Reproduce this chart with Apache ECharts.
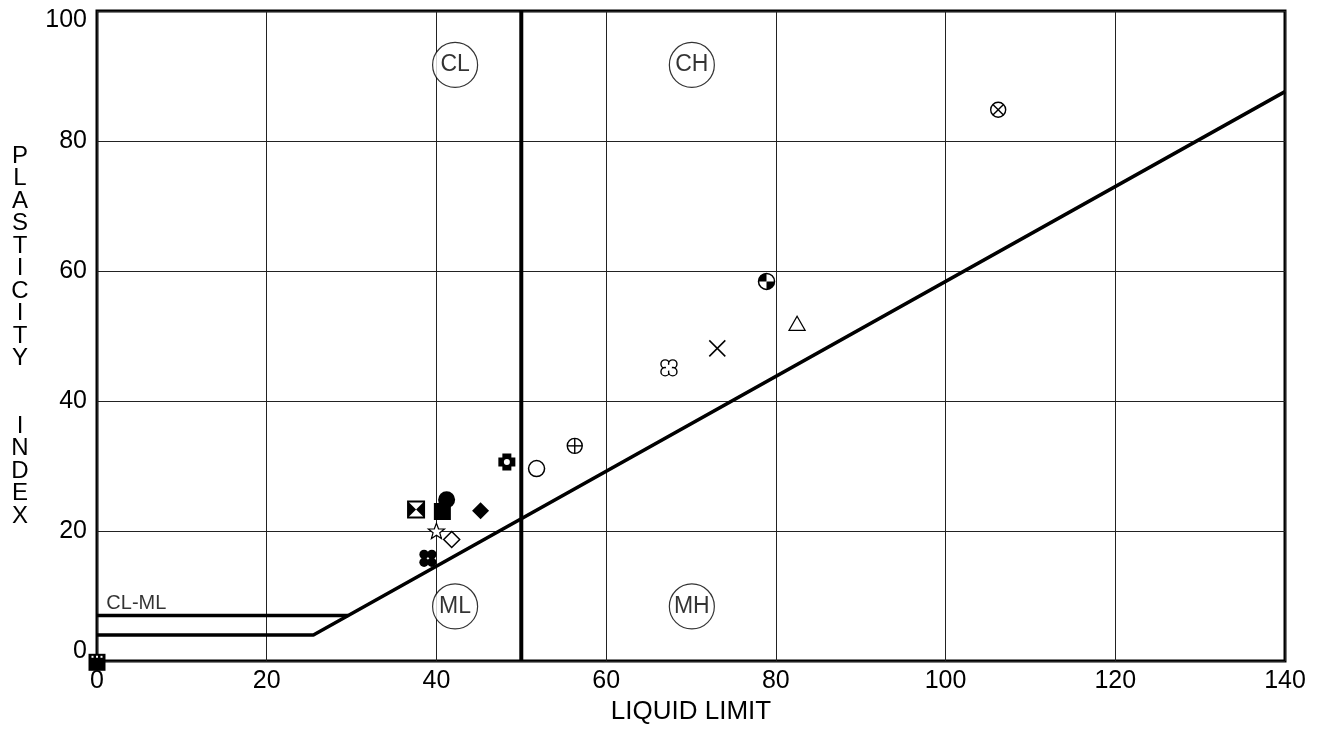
<!DOCTYPE html>
<html>
<head>
<meta charset="utf-8">
<script src="https://cdn.jsdelivr.net/npm/echarts@6/dist/echarts.min.js"></script>
<style>
  html, body { margin: 0; padding: 0; background: #fff; }
  #chart { width: 1325px; height: 730px; }
</style>
</head>
<body>
<div id="chart"></div>
<script>
// sample points: liquid limit, plasticity index, marker type
var sampleLL = [37.6, 40.7, 41.2, 45.2, 40.0, 41.8, 39.0, 48.3, 51.8, 56.3, 78.9, 82.5, 73.1, 67.4, 106.2, 0];
var samplePI = [23.3, 23.0, 24.8, 23.1, 19.9, 18.7, 15.8, 30.6, 29.6, 33.1, 58.4, 51.8, 48.1, 45.1, 84.8, -0.2];
var sampleMark = ['bowtie', 'square', 'circle', 'diamond', 'star', 'odiamond', 'clover', 'cross', 'ocircle',
  'cplus', 'checker', 'triangle', 'x', 'oclover', 'cx', 'osq'];

// A-line with the CL-ML band
var aLineLL = [0, 25.5, 140];
var aLinePI = [4, 4, 87.6];
var bandLL = [0, 29.6];
var bandPI = [7, 7];
var divideLL = [50, 50];
var dividePI = [0, 100];

// zone names
var zoneNames = ['CL', 'CH', 'ML', 'MH'];
var zoneLL = [42.2, 70.1, 42.2, 70.1];
var zonePI = [91.7, 91.7, 8.4, 8.4];

var FONT = '"Liberation Sans", Arial, Helvetica, sans-serif';
var K = '#000', W = '#fff';

function shapeOf(t, x, y) {
  switch (t) {
    case 'bowtie':
      return [
        {type: 'rect', shape: {x: x - 8, y: y - 8, width: 16, height: 16}, style: {fill: W, stroke: K, lineWidth: 2}},
        {type: 'polygon', shape: {points: [[x - 8, y - 8], [x, y], [x - 8, y + 8]]}, style: {fill: K}},
        {type: 'polygon', shape: {points: [[x + 8, y - 8], [x, y], [x + 8, y + 8]]}, style: {fill: K}}
      ];
    case 'square':
      return [{type: 'rect', shape: {x: x - 8.5, y: y - 8.5, width: 17, height: 17}, style: {fill: K}}];
    case 'circle':
      return [{type: 'circle', shape: {cx: x, cy: y, r: 8.5}, style: {fill: K}}];
    case 'diamond':
      return [{type: 'polygon', shape: {points: [[x, y - 8.5], [x + 8.5, y], [x, y + 8.5], [x - 8.5, y]]}, style: {fill: K}}];
    case 'odiamond':
      return [{type: 'polygon', shape: {points: [[x, y - 8], [x + 8, y], [x, y + 8], [x - 8, y]]}, style: {fill: W, stroke: K, lineWidth: 1.5}}];
    case 'star':
      var pts = [];
      for (var i = 0; i < 10; i++) {
        var r = i % 2 ? 3.5 : 8.5;
        var a = -Math.PI / 2 + i * Math.PI / 5;
        pts.push([x + r * Math.cos(a), y + r * Math.sin(a)]);
      }
      return [{type: 'polygon', shape: {points: pts}, style: {fill: W, stroke: K, lineWidth: 1.2}}];
    case 'clover':
      return [[-1, -1], [1, -1], [-1, 1], [1, 1]].map(function (d) {
        return {type: 'circle', shape: {cx: x + d[0] * 3.9, cy: y + d[1] * 3.9, r: 4.7}, style: {fill: K}};
      });
    case 'oclover':
      var lobes = [[-1, -1], [1, -1], [-1, 1], [1, 1]].map(function (d) {
        return {type: 'circle', shape: {cx: x + d[0] * 3.8, cy: y + d[1] * 3.8, r: 4.2}, style: {fill: W, stroke: K, lineWidth: 1.4}};
      });
      lobes.push({type: 'circle', shape: {cx: x, cy: y, r: 3}, style: {fill: W}});
      return lobes;
    case 'cross':
      return [
        {type: 'polygon', shape: {points: [[x - 4.5, y - 8.5], [x + 4.5, y - 8.5], [x + 4.5, y - 4.5], [x + 8.5, y - 4.5],
          [x + 8.5, y + 4.5], [x + 4.5, y + 4.5], [x + 4.5, y + 8.5], [x - 4.5, y + 8.5], [x - 4.5, y + 4.5],
          [x - 8.5, y + 4.5], [x - 8.5, y - 4.5], [x - 4.5, y - 4.5]]}, style: {fill: K}},
        {type: 'circle', shape: {cx: x, cy: y, r: 3}, style: {fill: W}}
      ];
    case 'ocircle':
      return [{type: 'circle', shape: {cx: x, cy: y, r: 8}, style: {fill: W, stroke: K, lineWidth: 1.5}}];
    case 'cplus':
      return [
        {type: 'circle', shape: {cx: x, cy: y, r: 7.5}, style: {fill: W, stroke: K, lineWidth: 1.4}},
        {type: 'line', shape: {x1: x - 7.5, y1: y, x2: x + 7.5, y2: y}, style: {stroke: K, lineWidth: 1.4}},
        {type: 'line', shape: {x1: x, y1: y - 7.5, x2: x, y2: y + 7.5}, style: {stroke: K, lineWidth: 1.4}}
      ];
    case 'cx':
      var d = 7.5 * Math.SQRT1_2;
      return [
        {type: 'circle', shape: {cx: x, cy: y, r: 7.5}, style: {fill: W, stroke: K, lineWidth: 1.4}},
        {type: 'line', shape: {x1: x - d, y1: y - d, x2: x + d, y2: y + d}, style: {stroke: K, lineWidth: 1.4}},
        {type: 'line', shape: {x1: x - d, y1: y + d, x2: x + d, y2: y - d}, style: {stroke: K, lineWidth: 1.4}}
      ];
    case 'checker':
      return [
        {type: 'circle', shape: {cx: x, cy: y, r: 8}, style: {fill: W, stroke: K, lineWidth: 1.5}},
        {type: 'sector', shape: {cx: x, cy: y, r: 8, startAngle: Math.PI, endAngle: Math.PI * 1.5}, style: {fill: K}},
        {type: 'sector', shape: {cx: x, cy: y, r: 8, startAngle: 0, endAngle: Math.PI * 0.5}, style: {fill: K}}
      ];
    case 'triangle':
      return [{type: 'polygon', shape: {points: [[x, y - 8], [x + 8, y + 6], [x - 8, y + 6]]}, style: {fill: W, stroke: K, lineWidth: 1.3}}];
    case 'x':
      return [
        {type: 'line', shape: {x1: x - 8, y1: y - 8, x2: x + 8, y2: y + 8}, style: {stroke: K, lineWidth: 1.5}},
        {type: 'line', shape: {x1: x - 8, y1: y + 8, x2: x + 8, y2: y - 8}, style: {stroke: K, lineWidth: 1.5}}
      ];
    case 'osq':
      var g = [{type: 'rect', shape: {x: x - 8.5, y: y - 8.5, width: 17, height: 17}, style: {fill: K}}];
      [-4.5, 0, 4.5].forEach(function (dx) {
        g.push({type: 'rect', shape: {x: x + dx - 1, y: y - 6.5, width: 2, height: 2}, style: {fill: W}});
      });
      return g;
  }
  return [];
}

function lineData(xs, ys) {
  return xs.map(function (v, i) { return [v, ys[i]]; });
}

var chart = echarts.init(document.getElementById('chart'));
var option = {
  backgroundColor: '#fff',
  animation: false,
  textStyle: {fontFamily: FONT, color: K},
  grid: {left: 97, right: 40, top: 11, bottom: 69, show: true, borderColor: K, borderWidth: 3},
  xAxis: {
    type: 'value', min: 0, max: 140, interval: 20,
    name: 'LIQUID LIMIT', nameLocation: 'middle', nameGap: 35,
    nameTextStyle: {fontSize: 26, color: K, fontFamily: FONT},
    axisLine: {show: false}, axisTick: {show: false},
    axisLabel: {fontSize: 25, color: K, margin: 8, fontFamily: FONT},
    splitLine: {show: true, lineStyle: {color: '#222', width: 1}}
  },
  yAxis: {
    type: 'value', min: 0, max: 100, interval: 20,
    name: 'P\nL\nA\nS\nT\nI\nC\nI\nT\nY\n\n\nI\nN\nD\nE\nX',
    nameLocation: 'middle', nameRotate: 0, nameGap: 77,
    nameTextStyle: {fontSize: 24, color: K, lineHeight: 22.5, align: 'center', fontFamily: FONT},
    axisLine: {show: false}, axisTick: {show: false},
    axisLabel: {
      fontSize: 25, color: K, margin: 10, fontFamily: FONT,
      formatter: function (v) {
        if (v === 100) return '{t|100}';
        if (v === 0) return '{b|0}';
        return v;
      },
      rich: {
        t: {fontSize: 25, fontFamily: FONT, color: K, padding: [18, 0, 0, 0]},
        b: {fontSize: 25, fontFamily: FONT, color: K, padding: [0, 0, 20, 0]}
      }
    },
    splitLine: {show: true, lineStyle: {color: '#222', width: 1}}
  },
  series: [
    {
      type: 'line', data: lineData(aLineLL, aLinePI), symbol: 'none', silent: true,
      lineStyle: {color: K, width: 3.5}
    },
    {
      type: 'line', data: lineData(bandLL, bandPI), symbol: 'none', silent: true,
      lineStyle: {color: K, width: 3.5}
    },
    {
      type: 'line', data: lineData(divideLL, dividePI), symbol: 'none', silent: true,
      lineStyle: {color: K, width: 4}
    },
    {
      type: 'scatter', silent: true, symbolSize: 0,
      data: [[1.1, 8.8]],
      label: {show: true, position: 'right', distance: 0, formatter: 'CL-ML', fontSize: 20,
        color: K, textBorderWidth: 0, fontFamily: FONT}
    },
    {
      type: 'scatter', silent: true, symbol: 'circle', symbolSize: 45,
      itemStyle: {color: W, borderColor: K, borderWidth: 1.2},
      data: zoneNames.map(function (n, i) { return {name: n, value: [zoneLL[i], zonePI[i]]}; }),
      label: {show: true, position: 'inside', formatter: '{b}', fontSize: 23,
        color: K, textBorderWidth: 0, fontFamily: FONT}
    },
    {
      type: 'custom', silent: true, clip: false,
      data: sampleLL.map(function (v, i) { return [v, samplePI[i], i]; }),
      encode: {x: 0, y: 1},
      renderItem: function (params, api) {
        var p = api.coord([api.value(0), api.value(1)]);
        return {type: 'group', children: shapeOf(sampleMark[api.value(2)], p[0], p[1])};
      },
      z: 10
    }
  ]
};
chart.setOption(option);
</script>
</body>
</html>
